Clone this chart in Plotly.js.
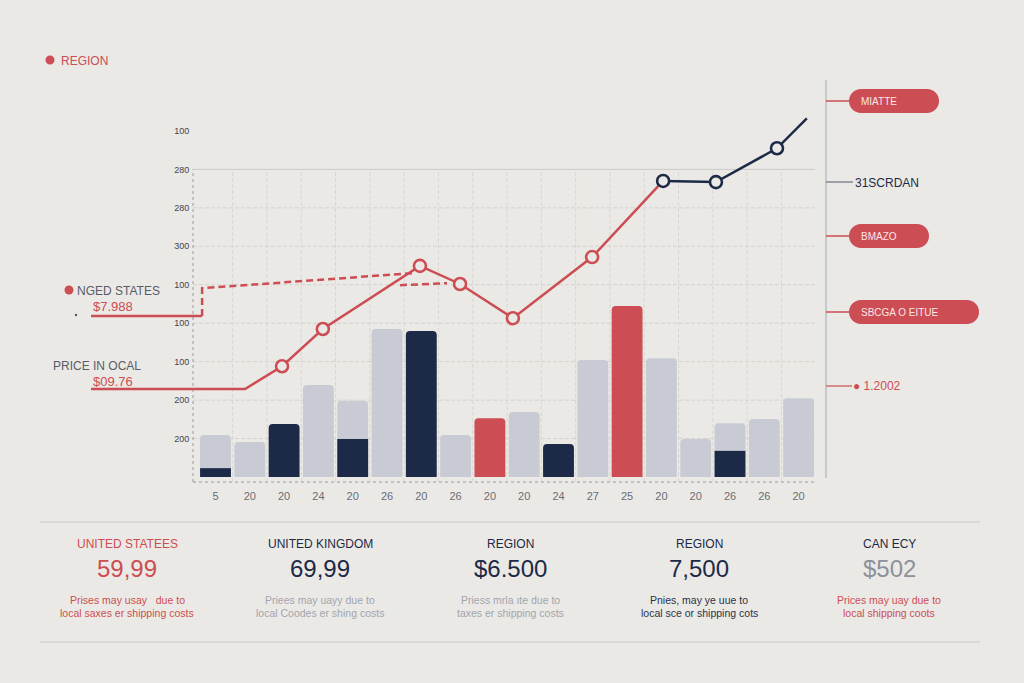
<!DOCTYPE html>
<html><head><meta charset="utf-8">
<script src="https://cdn.plot.ly/plotly-3.0.1.min.js"></script>
<style>html,body{margin:0;padding:0;background:#ebe9e5;}#chart{width:1024px;height:683px;}</style>
</head><body><div id="chart"></div>
<script>
// ---- data ----
const categories = [0,1,2,3,4,5,6,7,8,9,10,11,12,13,14,15,16,17];
const xTickLabels = ["5","20","20","24","20","26","20","26","20","20","24","27","25","20","20","26","26","20"];
const yTickVals = [100,200,300,400,500,600,700,800,900];
const yTickLabels = ["200","200","100","100","100","300","280","280","100"];
const grayBars = [109,91,null,239,198,385,null,109,null,169,null,304,null,309,99,140,151,205];
const navyBars = [23,null,138,null,99,null,380,null,null,null,86,null,null,null,null,68,null,null];
const redBars  = [null,null,null,null,null,null,null,null,153,null,null,null,445,null,null,null,null,null];
const redLineX = [-0.656,0.86,1.94,3.13,5.96,7.13,8.67,10.98,13.05];
const redLineY = [229,229,288,385,549,502,413,572,770];
const navyLineX = [13.05,14.59,16.37,17.24];
const navyLineY = [770,767,855,933];
const dashX = [-0.39,-0.39,5.73,null,5.38,6.75];
const dashY = [419,491,530,null,499,504];
const pillLabels = ["MIATTE","BMAZO","SBCGA O EITUE"];
const panelTitles = ["UNITED STATEES","UNITED KINGDOM","REGION","REGION","CAN ECY"];
const panelValues = ["59,99","69,99","$6.500","7,500","$502"];
const panelNotes1 = ["Prises may usay &nbsp; due to","Priees may uayy due to","Priess mrla ıte due to","Pnies, may ye uue to","Prices may uay due to"];
const panelNotes2 = ["local saxes er shipping costs","local Coodes er shing costs","taxes er shipping costs","local sce or shipping cots","local shipping coots"];

// ---- style ----
const BG = "#ebe9e5", RED = "#cc4d53", NAVY = "#1d2a47", GRAY = "#c8cbd3";
const FONT = "Liberation Sans, Arial, sans-serif";
const L = 193, R = 815, T = 110, B = 482;
const yRange = [-13, 954.5];
const xRange = [-0.656, 17.478];
const px = p => (p - L) / (R - L);
const py = p => (B - p) / (B - T);

const traces = [
  {type:"bar", x:categories, y:grayBars, width:0.9, marker:{color:GRAY, cornerradius:4}, hoverinfo:"skip"},
  {type:"bar", x:categories, y:navyBars, width:0.9, marker:{color:NAVY, cornerradius:4}, hoverinfo:"skip"},
  {type:"bar", x:categories, y:redBars, width:0.9, marker:{color:RED, cornerradius:4}, hoverinfo:"skip"},
  {type:"scatter", mode:"lines", x:dashX, y:dashY, line:{color:RED, width:2.5, dash:"7px,4px"}, connectgaps:false, hoverinfo:"skip"},
  {type:"scatter", mode:"lines+markers", x:redLineX, y:redLineY, line:{color:RED, width:2.5},
    marker:{symbol:"circle", opacity:1, size:redLineX.map((_,k)=> (k<2 || k===redLineX.length-1) ? 0 : 12), color:BG, line:{color:RED, width:2.6}}, cliponaxis:false, hoverinfo:"skip"},
  {type:"scatter", mode:"lines+markers", x:navyLineX, y:navyLineY, line:{color:NAVY, width:2.5},
    marker:{symbol:"circle", opacity:1, size:navyLineX.map((_,k)=> k===navyLineX.length-1 ? 0 : 12), color:BG, line:{color:NAVY, width:2.6}}, cliponaxis:false, hoverinfo:"skip"}
];

const shapes = [];
yTickVals.filter(v => v <= 800).forEach(v => {
  shapes.push({type:"line", layer:"below", xref:"paper", yref:"y", x0:0, x1:1, y0:v, y1:v,
    line:{color: v===800 ? "#c9c9c9" : "#d3d2cf", width:1, dash: v===800 ? "solid" : "4px,2px"}});
});
categories.slice(0,-1).forEach(c => {
  shapes.push({type:"line", layer:"below", xref:"x", yref:"y", x0:c+0.5, x1:c+0.5, y0:yRange[0], y1:800,
    line:{color:"#d8d7d4", width:1, dash:"4px,2px"}});
});
shapes.push({type:"line", xref:"paper", yref:"y", x0:0, x1:0, y0:yRange[0], y1:800, line:{color:"#9a9a9a", width:1, dash:"dot"}});
shapes.push({type:"line", xref:"paper", yref:"paper", x0:0, x1:1, y0:0, y1:0, line:{color:"#9a9a9a", width:1, dash:"dot"}});
shapes.push({type:"line", xref:"paper", yref:"y", x0:px(91), x1:px(202), y0:dashY[0], y1:dashY[0], line:{color:RED, width:2.5}});
shapes.push({type:"line", xref:"paper", yref:"y", x0:px(91), x1:0, y0:redLineY[0], y1:redLineY[0], line:{color:RED, width:2.5}});
const dot = (cx, cy, r, color) => ({type:"circle", xref:"paper", yref:"paper", x0:px(cx-r), x1:px(cx+r), y0:py(cy+r), y1:py(cy-r), fillcolor:color, line:{width:0}});
shapes.push(dot(50, 60, 4.5, RED));
shapes.push(dot(69, 290, 4.5, RED));
shapes.push(dot(76, 315, 1.2, "#555"));
shapes.push({type:"line", xref:"paper", yref:"paper", x0:px(826), x1:px(826), y0:py(80), y1:py(478), line:{color:"#b9bcc4", width:1.5}});
function pill(l, r, cy, h, color){
  const rad = h/2, k = 0.5523, t = cy - rad, b = cy + rad;
  const P = (x,y) => px(x).toFixed(5) + "," + py(y).toFixed(5);
  const path = "M" + P(l+rad,t) + " L" + P(r-rad,t) +
    " C" + P(r-rad+k*rad,t) + " " + P(r,cy-k*rad) + " " + P(r,cy) +
    " C" + P(r,cy+k*rad) + " " + P(r-rad+k*rad,b) + " " + P(r-rad,b) +
    " L" + P(l+rad,b) +
    " C" + P(l+rad-k*rad,b) + " " + P(l,cy+k*rad) + " " + P(l,cy) +
    " C" + P(l,cy-k*rad) + " " + P(l+rad-k*rad,t) + " " + P(l+rad,t) + " Z";
  return {type:"path", xref:"paper", yref:"paper", path:path, fillcolor:color, line:{width:0}};
}
const pillGeo = [[849,939,101],[849,929,236],[849,979,312]];
pillGeo.forEach(g => {
  shapes.push({type:"line", xref:"paper", yref:"paper", x0:px(826), x1:px(850), y0:py(g[2]), y1:py(g[2]), line:{color:RED, width:1.5}});
  shapes.push(pill(g[0], g[1], g[2], 24, RED));
});
shapes.push({type:"line", xref:"paper", yref:"paper", x0:px(826), x1:px(853), y0:py(182), y1:py(182), line:{color:"#6b7080", width:1.2}});
shapes.push({type:"line", xref:"paper", yref:"paper", x0:px(826), x1:px(852), y0:py(386), y1:py(386), line:{color:RED, width:1.2}});
shapes.push({type:"line", xref:"paper", yref:"paper", x0:px(40), x1:px(980), y0:py(522), y1:py(522), line:{color:"#c9c9c9", width:1.2}});
shapes.push({type:"line", xref:"paper", yref:"paper", x0:px(40), x1:px(980), y0:py(642), y1:py(642), line:{color:"#c9c9c9", width:1.2}});

const ann = [];
const txt = (text, x, y, size, color, xanchor, extra) => ann.push(Object.assign({
  text:text, xref:"paper", yref:"paper", x:px(x), y:py(y), xanchor:xanchor||"left", yanchor:"middle",
  showarrow:false, font:{family:FONT, size:size, color:color}}, extra||{}));
txt("REGION", 59, 61, 12, RED);
txt("NGED STATES", 75, 291, 12, "#585c68");
txt("$7.988", 91, 306, 13, RED);
txt("PRICE IN OCAL", 51, 366, 12, "#585c68");
txt("$09.76", 91, 381, 13, RED);
pillLabels.forEach((s,i) => txt(s, 859, pillGeo[i][2], 10, "#fbe6e6"));
txt("31SCRDAN", 853, 183, 12, NAVY);
txt("<span style='font-size:12px'>●</span> 1.2002", 851, 386, 12, RED);

const panelX = [127, 320, 510, 699, 889];
const titleColors = [RED, NAVY, NAVY, NAVY, NAVY];
const valueColors = [RED, NAVY, NAVY, NAVY, "#8d919b"];
const noteColors = [RED, "#a2a5ad", "#a2a5ad", "#2b3148", RED];
panelX.forEach((x,i) => {
  txt(panelTitles[i], x, 544, 12, titleColors[i], "center");
  txt(panelValues[i], x, 568, 24, valueColors[i], "center");
  txt(panelNotes1[i], x, 600, 10.5, noteColors[i], "center");
  txt(panelNotes2[i], x, 613, 10.5, noteColors[i], "center");
});

const layout = {
  width:1024, height:683, paper_bgcolor:BG, plot_bgcolor:BG,
  margin:{l:L, r:1024-R, t:T, b:683-B},
  showlegend:false, barmode:"overlay", font:{family:FONT},
  xaxis:{range:xRange, tickvals:categories, ticktext:xTickLabels, showgrid:false, zeroline:false, showline:false,
    ticks:"outside", ticklen:4, tickcolor:"rgba(0,0,0,0)", tickfont:{size:11, color:"#6a6d75"}},
  yaxis:{range:yRange, tickvals:yTickVals, ticktext:yTickLabels, showgrid:false, zeroline:false, showline:false,
    ticks:"outside", ticklen:1, tickcolor:"rgba(0,0,0,0)", tickfont:{size:9, color:"#3e4250"}},
  shapes:shapes, annotations:ann
};
Plotly.newPlot("chart", traces, layout, {staticPlot:true, displayModeBar:false});
</script>
</body></html>
